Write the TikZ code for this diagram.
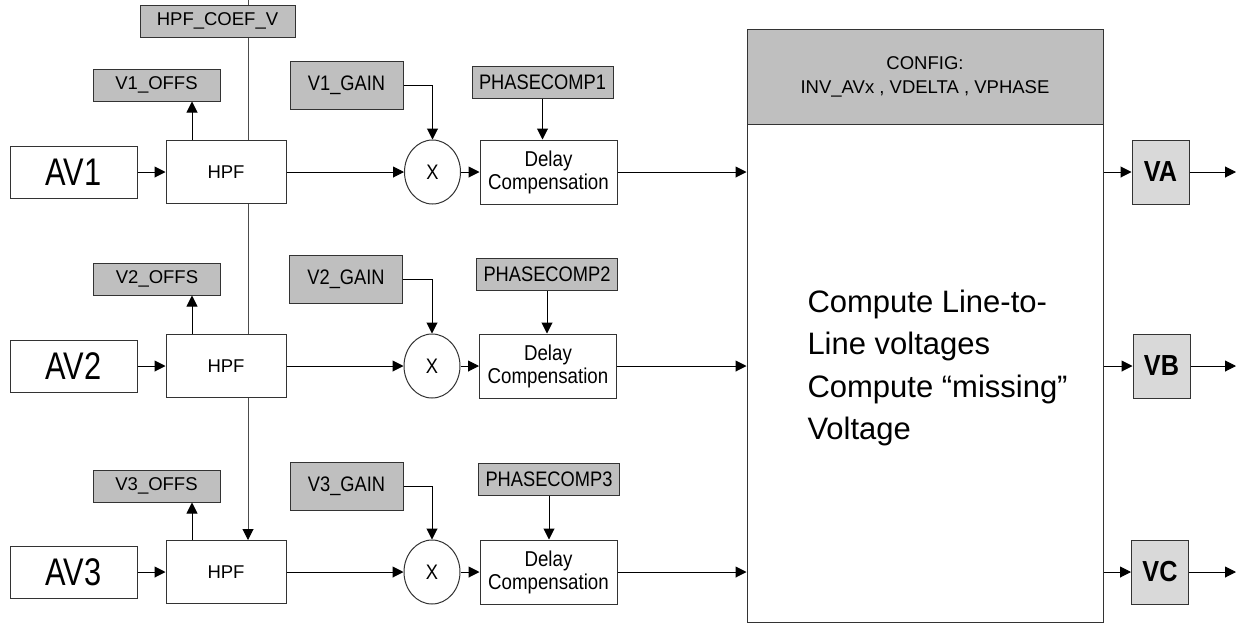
\documentclass[tikz,border=0pt]{standalone}
\usepackage{fontspec}
\setmainfont{Liberation Sans}
\newfontfamily\condfont[FakeStretch=0.87]{Liberation Sans}
\newfontfamily\avfont[FakeStretch=0.8]{Liberation Sans}
\usetikzlibrary{arrows.meta,shapes.geometric,backgrounds}

\begin{document}
\begin{tikzpicture}[x=1pt,y=-1pt,every path/.style={line width=1pt},
  tip/.style={-{Triangle[length=11pt,width=11pt]}},
  reg/.style={draw=black!80,fill=black!25,inner sep=0pt,font=\fontsize{18.5}{24}\selectfont},
  offs/.style={reg,minimum width=127pt,minimum height=32pt},
  gain/.style={reg,minimum width=113pt,minimum height=48pt,font=\condfont\fontsize{21}{24}\selectfont},
  phase/.style={reg,minimum width=141pt,minimum height=32pt,font=\condfont\fontsize{21}{24}\selectfont},
  avbox/.style={draw=black!80,fill=white,inner sep=0pt,minimum width=127pt,minimum height=52pt,font=\avfont\fontsize{38.5}{40}\selectfont},
  hpfbox/.style={draw=black!80,fill=white,inner sep=0pt,minimum width=120pt,minimum height=63pt,font=\fontsize{18.5}{20}\selectfont},
  dly/.style={draw=black!80,fill=white,inner sep=0pt,minimum width=137pt,minimum height=64pt,align=center,font=\condfont\fontsize{21.5}{23}\selectfont},
  mul/.style={ellipse,draw=black!80,fill=white,inner sep=0pt,minimum width=56pt,minimum height=64pt,font=\condfont\fontsize{21}{22}\selectfont},
  outbox/.style={draw=black!80,fill=black!15,inner sep=0pt,minimum width=57pt,minimum height=64pt,font=\condfont\fontsize{29}{30}\selectfont\bfseries}]
\useasboundingbox (0,0) rectangle (1243,625);
\node[reg,minimum width=155pt,minimum height=32pt] (coef) at (217.5,21) {HPF\_COEF\_V};
\coordinate (ctop) at (248,0);
\node[avbox] (av1) at (73.5,172) {AV1};
\node[avbox] (av2) at (73.5,366) {AV2};
\node[avbox] (av3) at (73.5,572) {AV3};
\node[hpfbox] (hpf1) at (226,172) {HPF};
\node[hpfbox] (hpf2) at (226,366) {HPF};
\node[hpfbox] (hpf3) at (226,572) {HPF};
\node[offs] (offs1) at (156.5,85) {V1\_OFFS};
\node[offs] (offs2) at (157,279) {V2\_OFFS};
\node[offs] (offs3) at (156.5,486) {V3\_OFFS};
\node[gain] (gain1) at (346.5,85) {V1\_GAIN};
\node[gain] (gain2) at (346,279) {V2\_GAIN};
\node[gain] (gain3) at (346.5,486) {V3\_GAIN};
\node[mul] (mul1) at (432.5,172) {X};
\node[mul] (mul2) at (432,366) {X};
\node[mul] (mul3) at (432,572) {X};
\node[phase] (ph1) at (542.5,82) {PHASECOMP1};
\node[phase] (ph2) at (547,274.5) {PHASECOMP2};
\node[phase] (ph3) at (549,479) {PHASECOMP3};
\node[dly] (dly1) at (548.5,172) {Delay\\Compensation};
\node[dly] (dly2) at (548,366) {Delay\\Compensation};
\node[dly] (dly3) at (548.5,572) {Delay\\Compensation};
\node[draw=black!80,fill=white,inner sep=0pt,minimum width=356pt,minimum height=593pt] (main) at (925,325.5) {};
\node[reg,minimum width=356pt,minimum height=95pt,align=center] (cfg) at (925,76.5) {CONFIG:\\INV\_AVx , VDELTA , VPHASE};
\node[anchor=west,align=left,inner sep=0pt,font=\fontsize{31}{42.5}\selectfont] (calc) at (807,368) {Compute Line-to-\\Line voltages\\Compute “missing”\\Voltage};
\node[outbox] (va) at (1160.5,172) {VA};
\node[outbox] (vb) at (1161.5,366) {VB};
\node[outbox] (vc) at (1160,572) {VC};
\coordinate (enda) at (1236,172);
\coordinate (endb) at (1236,366);
\coordinate (endc) at (1236,572);
\begin{scope}[on background layer]
\draw[black!70,-{Triangle[length=11pt,width=11pt,black]}] (ctop) to (ctop |- hpf3.north);
\end{scope}
\draw[tip] (av1) to (hpf1);
\draw[tip] (av2) to (hpf2);
\draw[tip] (av3) to (hpf3);
\draw[tip] ([xshift=-34pt]hpf1.north) to ([xshift=-34pt]hpf1.north |- offs1.south);
\draw[tip] ([xshift=-34pt]hpf2.north) to ([xshift=-34pt]hpf2.north |- offs2.south);
\draw[tip] ([xshift=-34pt]hpf3.north) to ([xshift=-34pt]hpf3.north |- offs3.south);
\draw[tip] (hpf1) to (mul1);
\draw[tip] (hpf2) to (mul2);
\draw[tip] (hpf3) to (mul3);
\draw[tip] (gain1) -| (mul1);
\draw[tip] (gain2) -| (mul2);
\draw[tip] (gain3) -| (mul3);
\draw[tip] (mul1) to (dly1);
\draw[tip] (mul2) to (dly2);
\draw[tip] (mul3) to (dly3);
\draw[tip] (ph1) to (ph1 |- dly1.north);
\draw[tip] (ph2) to (ph2 |- dly2.north);
\draw[tip] (ph3) to (ph3 |- dly3.north);
\draw[tip] (dly1) to (dly1 -| main.west);
\draw[tip] (dly2) to (dly2 -| main.west);
\draw[tip] (dly3) to (dly3 -| main.west);
\draw[tip] (va -| main.east) to (va);
\draw[tip] (vb -| main.east) to (vb);
\draw[tip] (vc -| main.east) to (vc);
\draw[tip] (va) to (enda);
\draw[tip] (vb) to (endb);
\draw[tip] (vc) to (endc);
\end{tikzpicture}
\end{document}
